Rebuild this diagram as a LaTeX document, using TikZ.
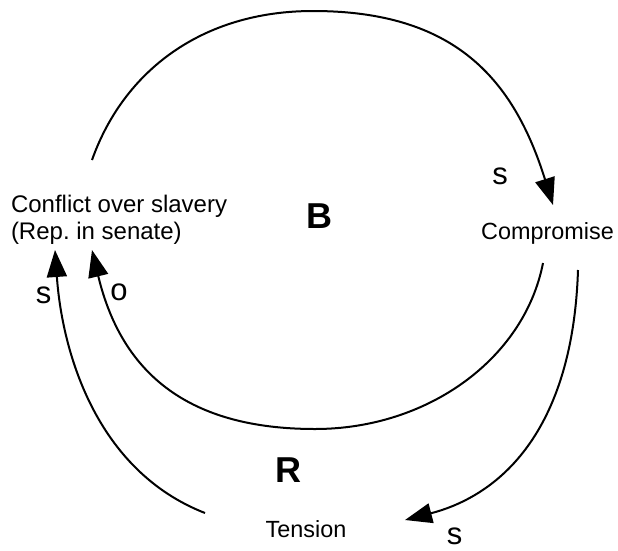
\documentclass[tikz,border=0pt]{standalone}
\usepackage{fontspec}
\setmainfont{Liberation Sans}
\usetikzlibrary{arrows.meta}
\frenchspacing
\tikzset{
  txt/.style={inner sep=0pt, font=\fontsize{23.4pt}{27pt}\selectfont},
  lbl/.style={inner sep=0pt, font=\fontsize{31pt}{34pt}\selectfont},
  loopname/.style={inner sep=0pt, font=\fontsize{36pt}{40pt}\selectfont\bfseries},
  link/.style={line width=2pt, -{Triangle[length=27pt,width=20pt]}},
}
\begin{document}
\begin{tikzpicture}[x=1pt,y=-1pt]
\useasboundingbox (0,0) rectangle (618,550);
% texts
\node[txt, font=\fontsize{24pt}{27pt}\selectfont, anchor=north west, align=left] (conflict) at (10.8,195) {Conflict over slavery\\(Rep. in senate)};
\node[txt, anchor=base west] (compromise) at (481,239) {Compromise};
\node[txt, anchor=base west] (tension) at (265.5,537) {Tension};
\node[loopname] (B) at (319,216) {B};
\node[loopname] (R) at (288.5,470.5) {R};
\node[lbl] (s1) at (500,176.5) {s};
\node[lbl] (s2) at (43.5,295) {s};
\node[lbl] (o1) at (119,292.5) {o};
\node[lbl] (s3) at (454.5,536.5) {s};
% connector end points
\coordinate (a1) at (92,160);
\coordinate (atop) at (313,11);
\coordinate (a2) at (553,205);
\coordinate (b1) at (543,263);
\coordinate (bbot) at (315,429);
\coordinate (b2) at (92,250);
\coordinate (c1) at (578,270);
\coordinate (c2) at (405,520);
\coordinate (d1) at (205,513);
\coordinate (d2) at (55,250);
% Conflict -> Compromise
\draw[link] (a1) .. controls (124,70) and (203,11) .. (atop)
                 .. controls (453,11) and (513,77) .. (a2);
% Compromise -> Conflict (o)
\draw[link] (b1) .. controls (524.3,358.8) and (427.7,429) .. (bbot)
                 .. controls (190,429) and (122,375) .. (b2);
% Compromise -> Tension
\draw[link] (c1) .. controls (573,425) and (505,494) .. (c2);
% Tension -> Conflict
\draw[link] (d1) .. controls (95,470) and (62,350) .. (d2);
\end{tikzpicture}
\end{document}
